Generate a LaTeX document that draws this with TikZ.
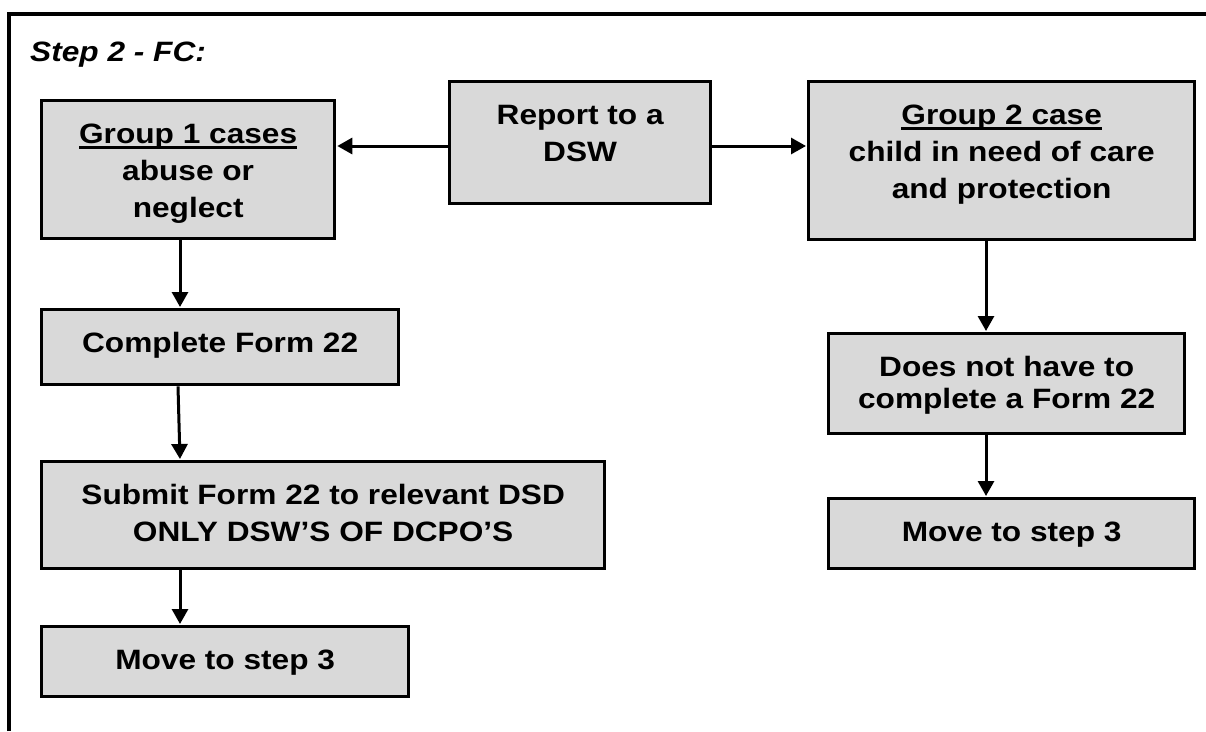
\documentclass[tikz,border=0pt]{standalone}
\usepackage{fontspec}
\setmainfont{Liberation Sans}[FakeStretch=1.13]
\usetikzlibrary{arrows.meta}
\definecolor{boxgray}{RGB}{217,217,217}
\newcommand\myul[1]{\setbox0=\hbox{#1}\rlap{\rule[-5pt]{\wd0}{2.3pt}}\box0}
\newcommand\boxtxt[3]{\parbox[t][#2][t]{#1}{\centering\rule{0pt}{43pt}#3}}
\tikzset{
  box/.style={draw=black, fill=boxgray, line width=3.3pt, inner sep=0pt, anchor=north west,
    font=\fontsize{28}{37}\selectfont\bfseries},
  arr/.style={line width=3pt, -{Triangle[length=15pt,width=16pt]}, shorten >=1pt},
  frame/.style={line width=3.4pt}
}
\begin{document}
\begin{tikzpicture}[x=1pt,y=-1pt]
\useasboundingbox (0,0) rectangle (1206,731);
% outer frame
\coordinate (fbl) at (9,731);
\coordinate (ftl) at (9,14);
\coordinate (ftr) at (1206,14);
\draw[frame] (fbl) -- (ftl) -- (ftr);
% title
\node[anchor=base west, inner sep=0pt, font=\fontsize{28}{34}\selectfont\bfseries\itshape] (title) at (30,61) {Step 2 - FC:};
% boxes
\node[box] (g1) at (40,99) {\boxtxt{293pt}{138pt}{\myul{Group 1 cases}\\abuse or\\neglect}};
\node[box] (rep) at (448,80) {\boxtxt{261pt}{122pt}{Report to a\\DSW}};
\node[box] (g2) at (807,80) {\boxtxt{386pt}{158pt}{\myul{Group 2 case}\\child in need of care\\and protection}};
\node[box] (cf) at (40,308) {\boxtxt{357pt}{75pt}{Complete Form 22}};
\node[box] (sub) at (40,460) {\boxtxt{563pt}{107pt}{Submit Form 22 to relevant DSD\\ONLY DSW’S OF DCPO’S}};
\node[box] (mv1) at (40,625) {\boxtxt{367pt}{70pt}{Move to step 3}};
\node[box] (dn) at (827,332) {\boxtxt{356pt}{100pt}{Does not have to\\[-5pt]complete a Form 22}};
\node[box] (mv2) at (827,497) {\boxtxt{366pt}{70pt}{Move to step 3}};
% connector guides
\coordinate (hy) at (0,146);
\coordinate (lx) at (180,0);
\coordinate (lx2) at (178,0);
\coordinate (rx) at (986,0);
% connectors
\draw[arr] (rep.west |- hy) -- (g1.east |- hy);
\draw[arr] (rep.east |- hy) -- (g2.west |- hy);
\draw[arr] (g1.south -| lx) -- (cf.north -| lx);
\draw[arr] (cf.south -| lx2) -- (sub.north -| lx);
\draw[arr] (sub.south -| lx) -- (mv1.north -| lx);
\draw[arr] (g2.south -| rx) -- (dn.north -| rx);
\draw[arr] (dn.south -| rx) -- (mv2.north -| rx);
\end{tikzpicture}
\end{document}
